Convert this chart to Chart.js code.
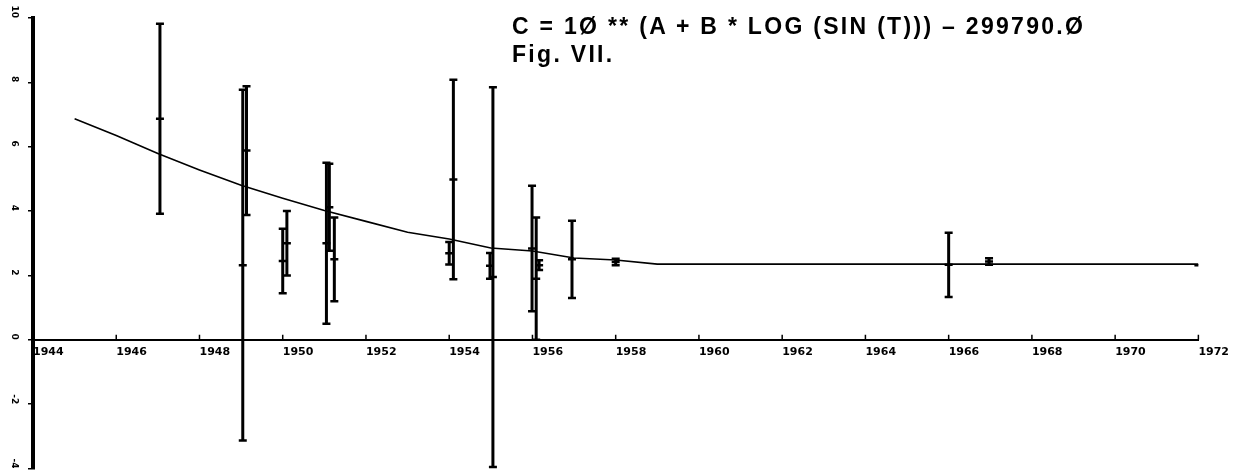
<!DOCTYPE html>
<html>
<head>
<meta charset="utf-8">
<script src="https://cdn.jsdelivr.net/npm/chart.js@4"></script>
<style>
  body { margin: 0; background: #fff; }
  #wrap { position: relative; width: 1235px; height: 475px; }
  .note { position: absolute; left: 512px; font-family: "Liberation Sans", Arial, sans-serif; font-weight: bold; font-size: 23px; line-height: 23px; color: #000; white-space: nowrap; letter-spacing: 2.3px; }
</style>
</head>
<body>
<div id="wrap">
  <canvas id="chart" width="1235" height="475"></canvas>
  <div class="note" style="top:15px">C = 1Ø ** (A + B * LOG (SIN (T))) – 299790.Ø</div>
  <div class="note" style="top:43px">Fig. VII.</div>
</div>
<script>
// Measured points (year, value) and half-length of each error bar
const years = [1947.05, 1949.04, 1949.13, 1950.0, 1950.1, 1951.05, 1951.12, 1951.24, 1954.0, 1954.1,
               1954.98, 1955.05, 1955.99, 1956.09, 1956.16, 1956.95, 1958.0, 1966.0, 1966.97, 1972.0];
const values = [6.87, 2.32, 5.88, 2.45, 3.0, 3.0, 4.12, 2.5, 2.69, 4.98,
                2.3, 1.95, 2.84, 1.9, 2.32, 2.5, 2.42, 2.33, 2.43, 2.32];
const errors = [2.95, 5.45, 2.0, 1.0, 1.0, 2.5, 1.35, 1.3, 0.35, 3.1,
                0.4, 5.9, 1.95, 1.9, 0.15, 1.2, 0.1, 1.0, 0.1, 0];

// Fitted curve
const fitYears = [1945, 1946, 1947, 1948, 1949, 1950, 1951, 1952, 1953, 1954, 1955, 1956, 1957, 1958, 1959, 1972];
const fitValues = [6.87, 6.35, 5.79, 5.28, 4.8, 4.4, 4.02, 3.68, 3.34, 3.13, 2.85, 2.76, 2.54, 2.48, 2.35, 2.35];

// Axis ticks
const xTicks = [1944, 1946, 1948, 1950, 1952, 1954, 1956, 1958, 1960, 1962, 1964, 1966, 1968, 1970, 1972];
const yTicks = [-4, -2, 0, 2, 4, 6, 8, 10];

// error bars drawn with the chart's own scales
const errorBars = {
  id: 'errorBars',
  afterDatasetsDraw(chart) {
    const ctx = chart.ctx;
    const xs = chart.scales.x, ys = chart.scales.y;
    ctx.save();
    ctx.strokeStyle = '#000';
    for (let i = 0; i < years.length; i++) {
      if (!errors[i]) continue;
      const x = xs.getPixelForValue(years[i]);
      const top = ys.getPixelForValue(values[i] + errors[i]);
      const bot = ys.getPixelForValue(values[i] - errors[i]);
      ctx.lineWidth = 3;
      ctx.beginPath();
      ctx.moveTo(x, top);
      ctx.lineTo(x, bot);
      ctx.stroke();
      ctx.lineWidth = 2.5;
      ctx.beginPath();
      ctx.moveTo(x - 4, top); ctx.lineTo(x + 4, top);
      ctx.moveTo(x - 4, bot); ctx.lineTo(x + 4, bot);
      ctx.stroke();
    }
    ctx.restore();
  }
};

// small upward tick marks on the x axis
const upTicks = {
  id: 'upTicks',
  afterDraw(chart) {
    const ctx = chart.ctx;
    const xs = chart.scales.x, ys = chart.scales.y;
    const y0 = ys.getPixelForValue(0);
    ctx.save();
    ctx.strokeStyle = '#000';
    ctx.lineWidth = 1.5;
    ctx.beginPath();
    xTicks.forEach(t => {
      const x = xs.getPixelForValue(t);
      ctx.moveTo(x, y0);
      ctx.lineTo(x, y0 - 5);
    });
    ctx.stroke();
    ctx.restore();
  }
};

new Chart(document.getElementById('chart'), {
  type: 'scatter',
  data: {
    datasets: [
      {
        data: fitYears.map((x, i) => ({ x: x, y: fitValues[i] })),
        showLine: true,
        borderColor: '#000',
        borderWidth: 1.6,
        pointRadius: 0,
        tension: 0
      },
      {
        data: years.map((x, i) => ({ x: x, y: values[i] })),
        pointStyle: 'line',
        pointRadius: 4,
        borderColor: '#000',
        borderWidth: 2.5,
        backgroundColor: '#000'
      }
    ]
  },
  options: {
    responsive: false,
    devicePixelRatio: 1,
    animation: false,
    layout: { padding: { left: 0, top: 18, right: 35, bottom: 2 } },
    plugins: { legend: { display: false }, tooltip: { enabled: false } },
    scales: {
      x: {
        type: 'linear',
        position: { y: 0 },
        min: 1944,
        max: 1972,
        afterBuildTicks: s => { s.ticks = xTicks.map(v => ({ value: v })); },
        grid: { drawOnChartArea: false, drawTicks: false },
        border: { color: '#000', width: 2 },
        ticks: {
          autoSkip: false,
          maxRotation: 0,
          align: 'start',
          padding: 6,
          color: '#000',
          font: { family: 'DejaVu Sans', weight: 'bold', size: 11 },
          callback: v => String(v)
        }
      },
      y: {
        min: -4,
        max: 10,
        afterBuildTicks: s => { s.ticks = yTicks.map(v => ({ value: v })); },
        afterFit: s => { s.width = 33; s.paddingTop = 0; s.paddingBottom = 0; },
        grid: { drawOnChartArea: false, drawTicks: true, tickLength: 5, color: '#000', lineWidth: 1.5 },
        border: { color: '#000', width: 4 },
        ticks: {
          minRotation: -90,
          maxRotation: -90,
          padding: 14,
          color: '#000',
          font: { family: 'DejaVu Sans', weight: 'bold', size: 9 },
          callback: v => String(v)
        }
      }
    }
  },
  plugins: [errorBars, upTicks]
});
</script>
</body>
</html>
